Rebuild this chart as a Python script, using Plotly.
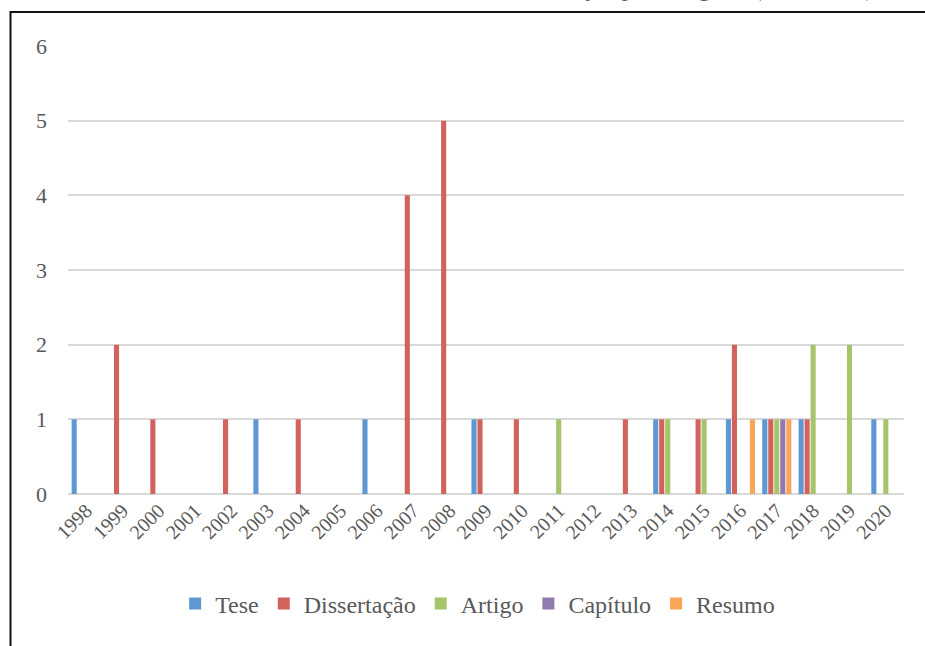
import plotly.graph_objects as go

# Publication counts per year, by type of work
years = [str(y) for y in range(1998, 2021)]
tese = [1, 0, 0, 0, 0, 1, 0, 0, 1, 0, 0, 1, 0, 0, 0, 0, 1, 0, 1, 1, 1, 0, 1]
dissertacao = [0, 2, 1, 0, 1, 0, 1, 0, 0, 4, 5, 1, 1, 0, 0, 1, 1, 1, 2, 1, 1, 0, 0]
artigo = [0, 0, 0, 0, 0, 0, 0, 0, 0, 0, 0, 0, 0, 1, 0, 0, 1, 1, 0, 1, 2, 2, 1]
capitulo = [0, 0, 0, 0, 0, 0, 0, 0, 0, 0, 0, 0, 0, 0, 0, 0, 0, 0, 0, 1, 0, 0, 0]
resumo = [0, 0, 0, 0, 0, 0, 0, 0, 0, 0, 0, 0, 0, 0, 0, 0, 0, 0, 1, 1, 0, 0, 0]

series = [
    ("Tese", tese, "#5E97D1"),
    ("Dissertação", dissertacao, "#D1625C"),
    ("Artigo", artigo, "#A6C46A"),
    ("Capítulo", capitulo, "#9379B1"),
    ("Resumo", resumo, "#F9A557"),
]

W, H = 925, 646
L, R, T, B = 68, 21, 46, 152
pw, ph = W - L - R, H - T - B


def px_x(p):
    return (p - L) / pw


def px_y(p):
    return (H - B - p) / ph


FONT = "Liberation Serif, Times New Roman, serif"
GREY = "#595959"

fig = go.Figure()
for name, vals, color in series:
    fig.add_trace(go.Bar(
        x=years, y=vals, name=name,
        marker=dict(color=color, line=dict(width=0)),
    ))

fig.update_layout(
    width=W, height=H,
    margin=dict(l=L, r=R, t=T, b=B),
    paper_bgcolor="white", plot_bgcolor="white",
    barmode="group", bargap=0.175, bargroupgap=0.15,
    font=dict(family=FONT, color=GREY),
    showlegend=True,
    legend=dict(
        orientation="h", x=0.49, xanchor="center",
        y=px_y(604), yanchor="middle",
        font=dict(family=FONT, size=24, color=GREY),
        itemwidth=30, traceorder="normal",
    ),
    xaxis=dict(
        type="category", tickangle=-45, showgrid=False, zeroline=False,
        showline=False, ticks="",
        tickfont=dict(family=FONT, size=20, color=GREY),
    ),
    yaxis=dict(
        range=[0, 6], dtick=1, showgrid=True, gridcolor="#D9D9D9", gridwidth=1.5,
        zeroline=True, zerolinecolor="#D9D9D9", zerolinewidth=1.5,
        showline=False, ticks="", ticklabelstandoff=20,
        tickfont=dict(family=FONT, size=22, color=GREY),
    ),
    shapes=[dict(
        type="rect", xref="paper", yref="paper",
        x0=px_x(10.5), x1=px_x(960), y0=px_y(12), y1=px_y(700),
        line=dict(color="#111111", width=2), fillcolor="rgba(0,0,0,0)",
        layer="above",
    )],
    annotations=[dict(
        text="Produção por categoria (1998-2020)",
        xref="paper", yref="paper", x=px_x(876), y=px_y(3),
        xanchor="right", yanchor="bottom", showarrow=False,
        font=dict(family=FONT, size=24, color=GREY),
    )],
)

fig.write_html("out.html")
